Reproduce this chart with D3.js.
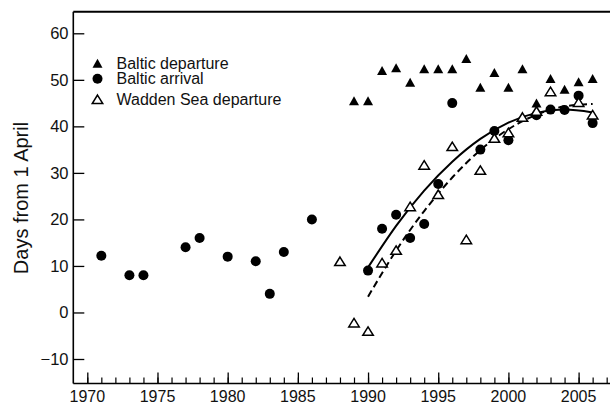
<!DOCTYPE html>
<html><head><meta charset="utf-8">
<script src="https://cdn.jsdelivr.net/npm/d3@7"></script>
<style>body{margin:0;background:#fff}svg{display:block}</style>
</head><body><svg id="c" width="610" height="409"></svg>
<script>
const yTicks = [-10, 0, 10, 20, 30, 40, 50, 60];
const xTicks = [1970, 1975, 1980, 1985, 1990, 1995, 2000, 2005];
const seriesNames = ["Baltic departure", "Baltic arrival", "Wadden Sea departure"];
const balticDepYears = [1989,1990,1991,1992,1993,1994,1995,1996,1997,1998,1999,2000,2001,2002,2003,2004,2005,2006];
const balticDepVals  = [45.5,45.5,52,52.6,49.5,52.4,52.4,52.4,54.6,48.4,51.6,48.4,52.4,45,50.3,48,49.6,50.3];
const balticArrYears = [1971,1973,1974,1977,1978,1980,1982,1983,1984,1986,1990,1991,1992,1993,1994,1995,1996,1998,1999,2000,2002,2003,2004,2005,2006];
const balticArrVals  = [12.2,8,8,14,16,12,11,4,13,20,9,18,21,16,19,27.6,45,35,39,37,42.4,43.6,43.5,46.6,40.7];
const waddenDepYears = [1988,1989,1990,1991,1992,1993,1994,1995,1996,1997,1998,1999,2000,2001,2002,2003,2005,2006];
const waddenDepVals  = [11,-2.2,-4,10.7,13.4,22.8,31.7,25.4,35.7,15.7,30.6,37.5,38.7,42,43.3,47.5,45.2,42.5];
const arrivalFitYears = [1990,1992,1994,1996,1998,2000,2002,2004,2006];
const arrivalFitVals  = [9.7,18.6,26.2,32.4,37.3,40.8,42.9,43.6,43.0];
const waddenFitYears  = [1990,1992,1994,1996,1998,2000,2002,2004,2006];
const waddenFitVals   = [3.4,13.3,21.8,29.0,34.9,39.4,42.5,44.3,44.8];

(function(){
const svg = d3.select("#c");
const FONT = "'Liberation Sans', Arial, sans-serif";
const pLeft = 73.3, pTop = 11.7, pBottom = 383.5, pRight = 610;
const x = d3.scaleLinear().domain([1970, 2005]).range([87.3, 578.6]);
const y = d3.scaleLinear().domain([-10, 60]).range([359, 33.3]);

svg.append("line").attr("x1", pLeft).attr("x2", pRight).attr("y1", pTop).attr("y2", pTop)
  .attr("stroke", "#000").attr("stroke-width", 2);

const yAxis = svg.append("g").attr("transform", `translate(${pLeft},0)`)
  .call(d3.axisRight(y).tickValues(yTicks).tickSize(11).tickFormat(""));
yAxis.select(".domain").remove();
yAxis.selectAll("line").attr("stroke", "#000").attr("stroke-width", 1.3);
svg.append("line").attr("x1", pLeft).attr("x2", pLeft).attr("y1", pTop).attr("y2", pBottom)
  .attr("stroke", "#000").attr("stroke-width", 1.6);
svg.append("g").selectAll("text").data(yTicks).join("text")
  .attr("x", 68.5).attr("y", d => y(d)).attr("dy", "0.36em")
  .attr("text-anchor", "end").attr("font-family", FONT).attr("font-size", 16.5)
  .attr("fill", "#111").text(d => d < 0 ? "\u2212" + Math.abs(d) : d);

const minorYears = d3.range(1970, 2008);
const xAxisG = svg.append("g").attr("transform", `translate(0,${pBottom})`);
xAxisG.call(d3.axisTop(x).tickValues(minorYears).tickSize(6).tickFormat(""));
xAxisG.select(".domain").remove();
xAxisG.selectAll("line").attr("stroke", "#000").attr("stroke-width", 1.2);
const xMaj = svg.append("g").attr("transform", `translate(0,${pBottom})`)
  .call(d3.axisTop(x).tickValues(xTicks).tickSize(11).tickFormat(""));
xMaj.select(".domain").remove();
xMaj.selectAll("line").attr("stroke", "#000").attr("stroke-width", 1.3);
svg.append("line").attr("x1", pLeft).attr("x2", pRight).attr("y1", pBottom).attr("y2", pBottom)
  .attr("stroke", "#000").attr("stroke-width", 1.6);
svg.append("g").selectAll("text").data(xTicks).join("text")
  .attr("x", d => x(d)).attr("y", 402).attr("text-anchor", "middle")
  .attr("font-family", FONT).attr("font-size", 16).attr("fill", "#111").text(d => d);

svg.append("text").attr("transform", "translate(28,198) rotate(-90)")
  .attr("text-anchor", "middle").attr("font-family", FONT).attr("font-size", 20)
  .attr("fill", "#111").text("Days from 1 April");

const line = d3.line().x(d => x(d[0])).y(d => y(d[1])).curve(d3.curveNatural);
svg.append("path").datum(d3.zip(arrivalFitYears, arrivalFitVals)).attr("d", line)
  .attr("fill", "none").attr("stroke", "#000").attr("stroke-width", 2);
svg.append("path").datum(d3.zip(waddenFitYears, waddenFitVals)).attr("d", line)
  .attr("fill", "none").attr("stroke", "#000").attr("stroke-width", 2)
  .attr("stroke-dasharray", "7,4");

function tri(w, h) {
  return `M0,${-h/2}L${w/2},${h/2}L${-w/2},${h/2}Z`;
}

svg.append("g").selectAll("circle").data(d3.zip(balticArrYears, balticArrVals)).join("circle")
  .attr("cx", d => x(d[0])).attr("cy", d => y(d[1])).attr("r", 5).attr("fill", "#000");
svg.append("g").selectAll("path").data(d3.zip(balticDepYears, balticDepVals)).join("path")
  .attr("transform", d => `translate(${x(d[0])},${y(d[1])})`).attr("d", tri(10, 9)).attr("fill", "#000");
svg.append("g").selectAll("path").data(d3.zip(waddenDepYears, waddenDepVals)).join("path")
  .attr("transform", d => `translate(${x(d[0])},${y(d[1])})`).attr("d", tri(10.5, 8.5))
  .attr("fill", "#fff").attr("stroke", "#000").attr("stroke-width", 1.5);

const lg = svg.append("g");
const legY = [63.3, 78.7, 99.3];
lg.append("path").attr("transform", `translate(97.5,${legY[0]})`).attr("d", tri(10, 9)).attr("fill", "#000");
lg.append("circle").attr("cx", 97.5).attr("cy", legY[1]).attr("r", 5).attr("fill", "#000");
lg.append("path").attr("transform", `translate(97.5,${legY[2]})`).attr("d", tri(10.5, 8.5))
  .attr("fill", "#fff").attr("stroke", "#000").attr("stroke-width", 1.5);
lg.selectAll("text").data(seriesNames).join("text")
  .attr("x", 116.5).attr("y", (d, i) => legY[i]).attr("dy", "0.36em")
  .attr("font-family", FONT).attr("font-size", 16).attr("fill", "#111").text(d => d);
})();
</script></body></html>
